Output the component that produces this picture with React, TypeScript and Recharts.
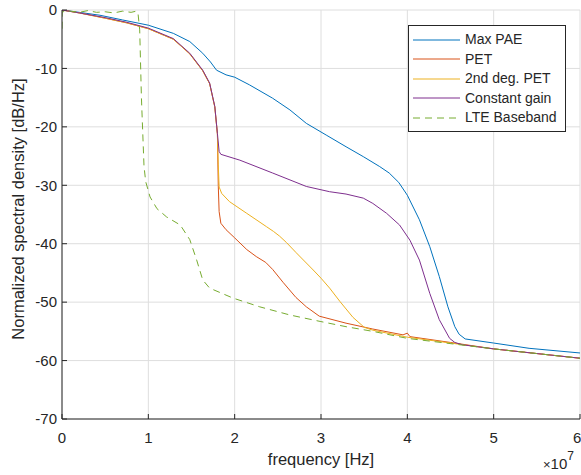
import React from 'react';
import { LineChart, Line, XAxis, YAxis, CartesianGrid, Legend } from 'recharts';

// frequency values are in units of 1e7 Hz (axis shows "x10^7")
const FREQ_SCALE = 1e7;

const maxPaeFreq = [0, 0.2, 0.44, 0.7, 1.0, 1.29, 1.48, 1.63, 1.72, 1.79, 1.9, 2.0, 2.17, 2.44, 2.64, 2.83, 3.06, 3.29, 3.49, 3.68, 3.79, 3.9, 4.0, 4.14, 4.26, 4.37, 4.47, 4.55, 4.6, 4.67, 5.0, 5.41, 6.0];
const maxPaeDb = [0, -0.4, -0.9, -1.7, -2.6, -4.0, -5.4, -7.4, -8.9, -10.3, -11.1, -11.5, -12.8, -15.1, -17.1, -19.4, -21.4, -23.4, -25.1, -26.8, -27.9, -29.5, -31.7, -35.9, -40.5, -45.6, -50.8, -54.2, -55.5, -56.3, -57.0, -57.9, -58.7];

const petFreq = [0, 0.2, 0.5, 0.75, 1.0, 1.29, 1.48, 1.63, 1.71, 1.77, 1.8, 1.81, 1.82, 1.84, 1.9, 2.0, 2.14, 2.25, 2.36, 2.44, 2.56, 2.71, 2.83, 2.98, 3.29, 3.6, 3.95, 4.0, 4.03, 4.5, 5.0, 6.0];
const petDb = [0, -0.5, -1.4, -2.2, -3.2, -5.0, -7.5, -10.4, -12.6, -16.6, -21.2, -30.0, -34.5, -36.5, -37.6, -39.0, -41.0, -42.2, -43.2, -44.4, -46.6, -49.2, -50.8, -52.4, -53.6, -54.6, -55.6, -55.3, -55.9, -56.9, -58.0, -59.6];

const pet2Freq = [0, 0.2, 0.5, 0.75, 1.0, 1.29, 1.48, 1.63, 1.71, 1.77, 1.8, 1.81, 1.82, 1.85, 1.94, 2.14, 2.37, 2.45, 2.52, 2.6, 2.71, 2.91, 3.0, 3.1, 3.22, 3.37, 3.5, 3.6, 4.0, 5.0, 6.0];
const pet2Db = [0, -0.5, -1.4, -2.2, -3.2, -5.0, -7.5, -10.4, -12.6, -16.6, -21.2, -26.5, -30.3, -31.4, -32.8, -34.8, -37.1, -37.9, -38.7, -39.8, -41.5, -44.5, -45.9, -47.6, -49.9, -52.6, -54.3, -54.8, -56.0, -58.0, -59.6];

const constGainFreq = [0, 0.2, 0.5, 0.75, 1.0, 1.29, 1.48, 1.63, 1.71, 1.77, 1.8, 1.82, 1.84, 2.06, 2.44, 2.83, 3.1, 3.29, 3.49, 3.6, 3.76, 3.91, 4.03, 4.14, 4.26, 4.37, 4.49, 4.55, 4.64, 5.0, 6.0];
const constGainDb = [0, -0.5, -1.3, -2.1, -3.1, -4.9, -7.4, -10.3, -12.5, -16.5, -21.1, -24.2, -24.7, -25.7, -27.9, -30.2, -31.1, -31.5, -32.2, -33.1, -34.8, -36.8, -39.4, -42.8, -48.5, -53.0, -56.2, -56.9, -57.3, -58.0, -59.6];

const lteFreq = [0, 0.002, 0.1, 0.2, 0.3, 0.4, 0.5, 0.6, 0.7, 0.8, 0.86, 0.88, 0.9, 0.92, 0.95, 0.97, 1.02, 1.1, 1.21, 1.37, 1.48, 1.56, 1.63, 1.71, 1.98, 2.29, 2.64, 2.99, 3.29, 3.6, 4.0, 5.0, 6.0];
const lteDb = [-3.2, -0.3, -0.2, -0.4, -0.1, -0.4, -0.3, -0.5, -0.2, -0.4, -0.2, -0.5, -3.4, -15.0, -26.8, -29.4, -32.0, -34.0, -35.4, -36.8, -39.3, -42.8, -46.2, -47.6, -49.3, -50.8, -52.2, -53.3, -54.2, -55.0, -56.2, -58.0, -59.6];

const xTicks = [0, 1, 2, 3, 4, 5, 6];
const yTicks = [-70, -60, -50, -40, -30, -20, -10, 0];

const toPoints = (freq: number[], db: number[]) =>
  freq.map((f, i) => ({ freq: f * FREQ_SCALE, db: db[i] }));

const series = [
  { name: 'Max PAE', color: '#0072BD', dash: undefined, data: toPoints(maxPaeFreq, maxPaeDb) },
  { name: 'PET', color: '#D95319', dash: undefined, data: toPoints(petFreq, petDb) },
  { name: '2nd deg. PET', color: '#EDB120', dash: undefined, data: toPoints(pet2Freq, pet2Db) },
  { name: 'Constant gain', color: '#7E2F8E', dash: undefined, data: toPoints(constGainFreq, constGainDb) },
  { name: 'LTE Baseband', color: '#77AC30', dash: '7 5', data: toPoints(lteFreq, lteDb) },
];

const FONT = '"Liberation Sans", Arial, Helvetica, sans-serif';
const TEXT = '#262626';

const LegendBox = () => (
  <div
    style={{
      border: '1px solid #262626',
      background: '#fff',
      padding: '4px 6px 3px 4px',
      fontFamily: FONT,
      fontSize: 14,
      color: TEXT,
      lineHeight: '19.5px',
    }}
  >
    {series.map(s => (
      <div key={s.name} style={{ display: 'flex', alignItems: 'center' }}>
        <svg width={48} height={10} style={{ marginRight: 4 }}>
          <line x1={0} y1={5} x2={47} y2={5} stroke={s.color} strokeWidth={1} strokeDasharray={s.dash} />
        </svg>
        <span>{s.name}</span>
      </div>
    ))}
  </div>
);

const XLabel = (props: any) => {
  const { viewBox } = props;
  const cx = viewBox.x + viewBox.width / 2;
  return (
    <g fontFamily={FONT} fill={TEXT}>
      <text x={cx} y={465} textAnchor="middle" fontSize={16.5}>frequency [Hz]</text>
      <text x={viewBox.x + viewBox.width - 37} y={469} fontSize={15}>
        <tspan fontSize={13}>×</tspan>
        <tspan>10</tspan>
        <tspan dy={-9} fontSize={12}>7</tspan>
      </text>
    </g>
  );
};

const YLabel = () => (
  <text
    x={24}
    y={209}
    transform="rotate(-90, 24, 209)"
    textAnchor="middle"
    fontSize={16.5}
    fontFamily={FONT}
    fill={TEXT}
  >
    Normalized spectral density [dB/Hz]
  </text>
);

export default function App() {
  return (
    <div style={{ position: 'absolute', left: 0, top: 0, background: '#fff' }}>
      <LineChart width={581} height={475} margin={{ top: 10, right: 1, bottom: 0, left: 0 }}>
        <CartesianGrid stroke="#dedede" strokeWidth={1} />
        <XAxis
          dataKey="freq"
          type="number"
          domain={[0, 6 * FREQ_SCALE]}
          ticks={xTicks.map(t => t * FREQ_SCALE)}
          tickFormatter={(v: number) => String(v / FREQ_SCALE)}
          height={56}
          stroke="#262626"
          tickSize={-5}
          tickMargin={18}
          tick={{ fill: TEXT, fontSize: 15, fontFamily: FONT }}
          label={<XLabel />}
          allowDataOverflow
        />
        <YAxis
          type="number"
          domain={[-70, 0]}
          ticks={yTicks}
          width={62}
          stroke="#262626"
          tickSize={-5}
          tickMargin={10}
          tick={{ fill: TEXT, fontSize: 15, fontFamily: FONT }}
          label={<YLabel />}
          allowDataOverflow
        />
        <Legend
          layout="vertical"
          align="center"
          verticalAlign="middle"
          content={() => <LegendBox />}
          wrapperStyle={{ top: 25, left: 408, width: 158, height: 'auto' }}
        />
        {series.map(s => (
          <Line
            key={s.name}
            name={s.name}
            data={s.data}
            dataKey="db"
            type="linear"
            stroke={s.color}
            strokeWidth={1}
            strokeDasharray={s.dash}
            dot={false}
            activeDot={false}
            isAnimationActive={false}
          />
        ))}
      </LineChart>
    </div>
  );
}
